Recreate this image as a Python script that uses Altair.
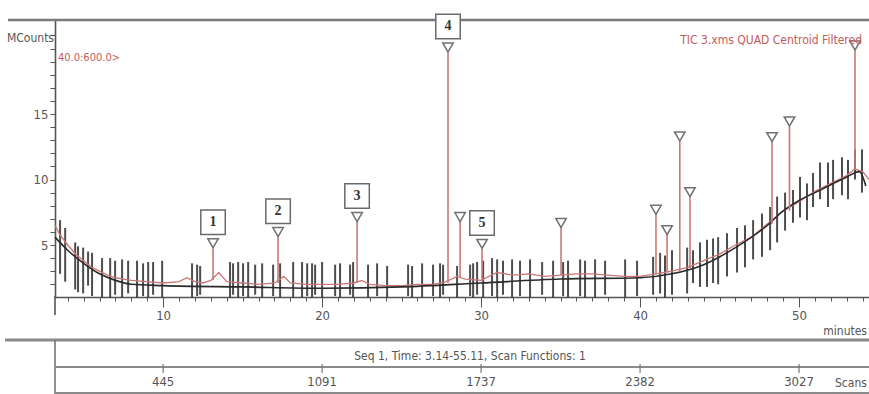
import altair as alt
import pandas as pd

# ---------------- data ----------------
# red TIC trace (baseline part)
trace_t = [3.2, 3.5, 4.0, 4.5, 5.0, 5.5, 6.0, 6.5, 7.0, 7.5, 8.0, 9.0, 10.0, 11.0, 11.5, 12.0,
           12.5, 13.0, 13.5, 14.0, 15.0, 16.0, 17.0, 17.6, 18.0, 19.0, 20.0, 21.0, 22.0, 22.5,
           23.0, 24.0, 25.0, 26.0, 27.0, 27.8, 28.5, 29.0, 30.0, 31.0, 32.0, 33.0, 34.0, 35.0,
           36.0, 37.0, 38.0, 39.0, 40.0, 41.0, 42.0, 43.0, 44.0, 45.0, 46.0, 47.0, 48.0, 49.0,
           50.0, 51.0, 52.0, 53.0, 53.5, 54.0, 54.4]
trace_v = [6.5, 5.8, 5.0, 4.3, 3.8, 3.3, 3.0, 2.7, 2.5, 2.4, 2.3, 2.2, 2.1, 2.2, 2.5, 2.2,
           2.1, 2.3, 2.9, 2.2, 2.1, 2.0, 2.1, 2.6, 2.1, 2.0, 2.0, 2.0, 2.1, 2.3,
           2.0, 1.9, 1.9, 2.0, 2.0, 2.2, 2.6, 2.4, 2.3, 2.9, 2.7, 2.8, 2.6, 2.7,
           2.8, 2.8, 2.7, 2.6, 2.6, 2.8, 3.0, 3.3, 3.8, 4.3, 5.0, 5.6, 6.6, 7.6,
           8.3, 9.1, 9.7, 10.3, 10.8, 10.6, 10.0]

# black smoothed line
smooth_t = [3.2, 4.0, 5.0, 6.0, 7.0, 8.0, 10.0, 15.0, 20.0, 25.0, 30.0, 35.0, 40.0, 42.0,
            44.0, 46.0, 48.0, 49.0, 50.0, 51.0, 52.0, 53.0, 53.8, 54.2]
smooth_v = [5.6, 4.6, 3.6, 2.8, 2.3, 2.0, 1.9, 1.8, 1.7, 1.8, 2.1, 2.4, 2.5, 2.8,
            3.5, 4.8, 6.5, 7.6, 8.4, 9.0, 9.6, 10.2, 10.6, 9.5]

# black vertical scan bars
bar_t = [3.52, 3.84, 4.47, 4.65, 4.97, 5.28, 5.53, 6.16, 6.67, 6.98, 7.42, 7.80, 8.36, 8.74,
         9.06, 9.37, 9.94, 11.82, 12.14, 12.33, 14.21, 14.40, 14.72, 15.03, 15.35, 15.79,
         16.23, 16.92, 17.36, 18.18, 18.74, 19.06, 19.37, 19.56, 20.00, 20.82, 21.13, 21.76,
         21.95, 22.89, 23.46, 24.09, 25.41, 25.66, 26.29, 26.98, 27.42, 27.61, 28.49, 29.31,
         29.50, 29.75, 30.13, 30.69, 31.01, 31.38, 31.95, 32.45, 33.08, 33.84, 34.53, 35.16,
         35.47, 36.23, 36.54, 37.17, 37.80, 39.06, 39.81, 40.82, 41.26, 41.57, 42.01, 42.96,
         43.33, 43.77, 44.21, 44.59, 44.91, 45.47, 46.10, 46.60, 47.11, 47.67, 48.18, 48.62,
         49.12, 49.62, 50.06, 50.50, 50.88, 51.32, 51.82, 52.14, 52.70, 53.08, 53.52, 53.96]
bar_lo = [2.8, 2.2, 1.6, 1.4, 1.3, 1.9, 1.1, 1.0, 1.0, 1.2, 1.0, 1.3, 1.0, 1.1,
          1.0, 1.2, 1.0, 1.0, 1.1, 1.2, 1.0, 1.2, 1.0, 1.1, 1.0, 1.2,
          1.0, 1.1, 1.0, 1.0, 1.0, 1.1, 1.0, 1.2, 1.0, 1.1, 1.0, 1.2,
          1.0, 1.0, 1.1, 1.0, 1.1, 1.0, 1.0, 1.1, 1.0, 1.2, 1.0, 1.1,
          1.0, 1.2, 1.0, 1.1, 1.0, 1.2, 1.0, 1.1, 1.0, 1.2, 1.0, 1.1,
          1.0, 1.1, 1.0, 1.0, 1.2, 1.0, 1.1, 1.2, 1.3, 1.0, 1.2, 1.3,
          2.1, 1.8, 1.8, 2.1, 2.0, 2.6, 2.9, 3.3, 3.9, 4.1, 4.6, 5.2,
          6.1, 6.7, 7.1, 6.9, 7.9, 8.5, 7.9, 8.5, 8.8, 8.5, 10.0, 9.0]
bar_hi = [6.9, 6.3, 5.2, 4.9, 4.8, 4.5, 4.4, 4.0, 4.0, 3.8, 3.9, 3.8, 3.8, 3.6,
          3.7, 3.7, 3.8, 3.6, 3.5, 3.4, 3.7, 3.6, 3.7, 3.6, 3.7, 3.5,
          3.6, 3.5, 3.6, 3.7, 3.7, 3.6, 3.6, 3.5, 3.7, 3.5, 3.6, 3.5,
          3.7, 3.5, 3.6, 3.4, 3.5, 3.4, 3.6, 3.5, 3.6, 3.5, 3.4, 3.5,
          3.6, 3.7, 3.8, 4.0, 3.9, 3.8, 3.9, 3.8, 3.9, 3.7, 3.8, 3.7,
          3.8, 3.9, 3.8, 3.9, 3.8, 3.9, 3.8, 4.1, 4.4, 4.2, 4.6, 4.8,
          4.6, 5.2, 5.4, 5.5, 5.6, 5.9, 6.3, 6.5, 6.9, 7.4, 7.9, 8.7,
          9.0, 9.2, 10.2, 9.7, 10.5, 11.3, 11.3, 11.5, 11.7, 11.5, 12.3, 12.3]

# identified peaks
peak_t = [13.14, 17.23, 22.2, 27.92, 30.06, 28.68, 35.03, 41.0, 41.7, 42.5, 43.14, 48.3, 49.4, 53.52]
peak_base = [2.3, 2.1, 2.1, 2.1, 2.3, 2.5, 2.7, 2.8, 2.9, 3.0, 3.2, 6.6, 7.6, 10.8]
peak_top = [4.75, 5.6, 6.75, 19.7, 4.7, 6.75, 6.3, 7.3, 5.75, 12.9, 8.65, 12.85, 14.05, 19.85]
peak_label = ["1", "2", "3", "4", "5", "", "", "", "", "", "", "", "", ""]

# secondary scan scale
scan_time = [10, 20, 30, 40, 50]
scan_label = ["445", "1091", "1737", "2382", "3027"]

# ---------------- chart ----------------
NARROW = "Liberation Sans Narrow, Arial Narrow, DejaVu Sans Condensed, Liberation Sans, sans-serif"
RED = "#cc7777"
REDTXT = "#c25c5c"

XS = alt.Scale(domain=[3.2, 54.4], nice=False, zero=False)
YS = alt.Scale(domain=[1.03, 22.18], nice=False, zero=False)

trace = pd.DataFrame({"t": trace_t, "v": trace_v})
smooth = pd.DataFrame({"t": smooth_t, "v": smooth_v})
bars = pd.DataFrame({"t": bar_t, "lo": bar_lo, "hi": bar_hi})
peaks = pd.DataFrame({"t": peak_t, "base": peak_base, "top": peak_top, "label": peak_label})
labelled = peaks[peaks["label"] != ""]
scans = pd.DataFrame({"t": scan_time, "label": scan_label})

x_axis = alt.Axis(
    values=list(range(4, 55)),
    labelExpr="datum.value % 10 === 0 ? datum.label : ''",
    tickSize={"condition": {"test": "datum.value % 10 === 0", "value": 10}, "value": 4},
    grid=False, title=None, domainColor="#555555", domainWidth=1.6,
    tickColor="#555555", labelColor="#555555", labelFont=NARROW, labelFontSize=13,
    labelPadding=2, labelFlush=False,
)
y_axis = alt.Axis(
    values=list(range(2, 22)),
    labelExpr="(datum.value === 5 || datum.value === 10 || datum.value === 15) ? datum.label : ''",
    tickSize=5, grid=False, title=None, domainColor="#555555", domainWidth=1.6,
    tickColor="#555555", labelColor="#555555", labelFont=NARROW, labelFontSize=13,
    labelPadding=2,
)

base_x = alt.X("t:Q", scale=XS, axis=x_axis)
base_y = alt.Y("v:Q", scale=YS, axis=y_axis)

bar_layer = alt.Chart(bars).mark_rule(color="#2e2e2e", strokeWidth=2, opacity=0.85).encode(
    x=alt.X("t:Q", scale=XS, axis=x_axis),
    y=alt.Y("lo:Q", scale=YS, axis=y_axis),
    y2="hi:Q",
)
trace_layer = alt.Chart(trace).mark_line(color=RED, strokeWidth=1.3).encode(x=base_x, y=base_y)
smooth_layer = alt.Chart(smooth).mark_line(color="#2a2a2a", strokeWidth=1.6, interpolate="monotone").encode(
    x=base_x, y=base_y)
spike_layer = alt.Chart(peaks).mark_rule(color=RED, strokeWidth=1.6).encode(
    x=alt.X("t:Q", scale=XS, axis=x_axis),
    y=alt.Y("base:Q", scale=YS, axis=y_axis),
    y2="top:Q",
)
tri_layer = alt.Chart(peaks).mark_point(
    shape="triangle-down", filled=True, fill="white", stroke="#707070", strokeWidth=1.5,
    size=110, yOffset=-5, opacity=1,
).encode(x=alt.X("t:Q", scale=XS, axis=x_axis), y=alt.Y("top:Q", scale=YS, axis=y_axis))

# frame / decoration lines (pixel positions relative to plot origin)
def hline(y, x1, x2, width, color="#7a7a7a"):
    return alt.Chart(pd.DataFrame({"a": [0]})).mark_rule(color=color, strokeWidth=width).encode(
        x=alt.value(x1), x2=alt.value(x2), y=alt.value(y))

def vline(x, y1, y2, width, color="#555555"):
    return alt.Chart(pd.DataFrame({"a": [0]})).mark_rule(color=color, strokeWidth=width).encode(
        x=alt.value(x), y=alt.value(y1), y2=alt.value(y2))

def label(text, x, y, color, size, align="left", baseline="middle", font=NARROW, weight="normal"):
    return alt.Chart(pd.DataFrame({"s": [text]})).mark_text(
        align=align, baseline=baseline, color=color, fontSize=size, font=font, fontWeight=weight
    ).encode(x=alt.value(x), y=alt.value(y), text="s:N")

top_line = hline(0, -47, 814, 2.5)
yaxis_ext = vline(0, 276, 295, 1.6)
sep_line = hline(320, -50, 814, 3, "#8a8a8a")
sep_v = vline(0, 320, 374, 1.6, "#777777")
mid_line = hline(347, 0, 814, 2, "#8a8a8a")
bot_line = hline(373, 0, 814, 2, "#8a8a8a")

box_layer = alt.Chart(labelled).mark_square(
    size=600, filled=True, fill="white", stroke="#6a6a6a", strokeWidth=1.5, yOffset=-26, opacity=1
).encode(x=alt.X("t:Q", scale=XS, axis=x_axis), y=alt.Y("top:Q", scale=YS, axis=y_axis))
num_layer = alt.Chart(labelled).mark_text(
    font="Liberation Serif, DejaVu Serif, serif", fontSize=14, fontWeight="bold", color="#333333",
    yOffset=-26, baseline="middle", align="center",
).encode(x=alt.X("t:Q", scale=XS, axis=x_axis), y=alt.Y("top:Q", scale=YS, axis=y_axis), text="label:N")

scan_text = alt.Chart(scans).mark_text(
    font=NARROW, fontSize=13, color="#555555", baseline="middle", align="center"
).encode(x=alt.X("t:Q", scale=XS, axis=x_axis), y=alt.value(362), text="label:N")
scan_ticks = alt.Chart(scans).mark_rule(color="#777777", strokeWidth=1.2).encode(
    x=alt.X("t:Q", scale=XS, axis=x_axis), y=alt.value(344), y2=alt.value(353))

texts = [
    label("MCounts", -1, 18, "#555555", 12, align="right"),
    label("40.0:600.0>", 3, 38, REDTXT, 11),
    label("TIC 3.xms QUAD Centroid Filtered", 807, 20, REDTXT, 12, align="right"),
    label("minutes", 812, 311, "#555555", 12, align="right"),
    label("Seq 1, Time: 3.14-55.11, Scan Functions: 1", 415, 336, "#555555", 12, align="center"),
    label("Scans", 780, 363, "#555555", 12),
]

chart = alt.layer(
    sep_line, sep_v, mid_line, bot_line, scan_ticks, scan_text,
    bar_layer, trace_layer, smooth_layer, spike_layer, tri_layer, yaxis_ext,
    top_line, box_layer, num_layer, *texts,
).properties(
    width=814, height=277,
    padding={"left": 55, "top": 20, "right": 0, "bottom": 97},
    autosize=alt.AutoSizeParams(type="none"),
    background="white",
).configure_view(strokeWidth=0)

chart.save("out.html", embed_options={"renderer": "svg", "actions": False})
